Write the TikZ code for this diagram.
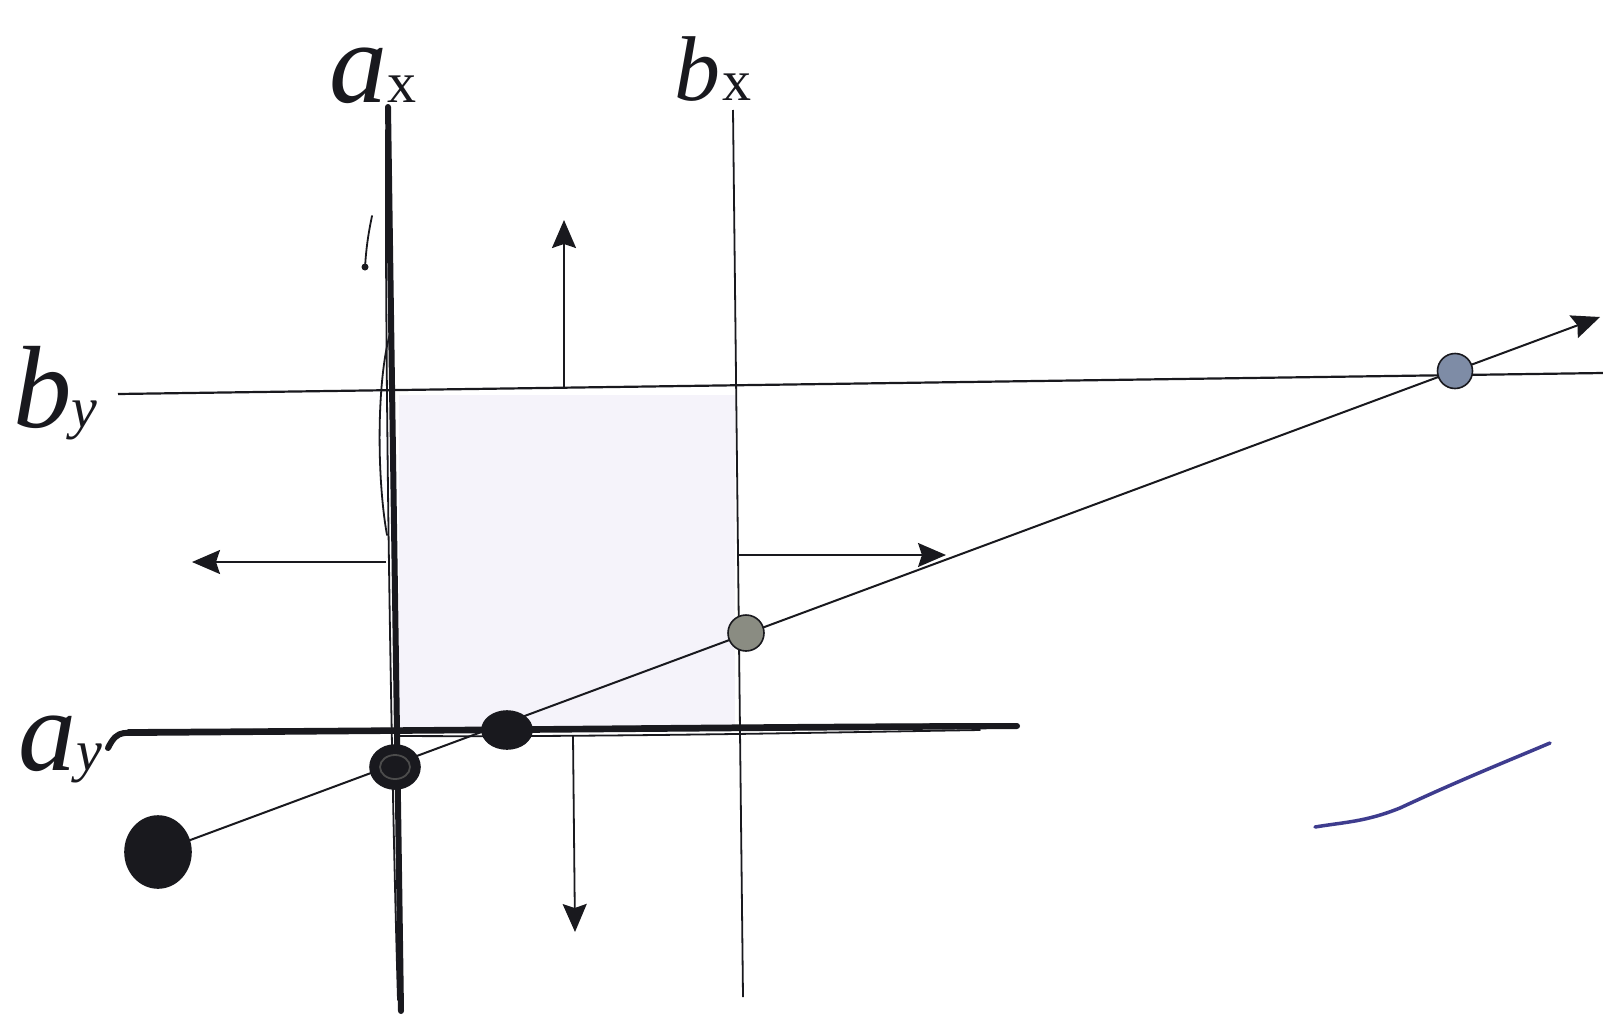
\documentclass[tikz,border=0pt]{standalone}
\usepackage{fontspec}
\setmainfont{Liberation Serif}
\usetikzlibrary{arrows.meta,shapes.geometric}
\definecolor{shadefill}{RGB}{245,243,250}
\definecolor{ink}{RGB}{25,25,30}
\definecolor{dotgray}{RGB}{138,140,130}
\definecolor{dotblue}{RGB}{126,140,166}
\definecolor{penblue}{RGB}{62,60,142}
\begin{document}
\begin{tikzpicture}[x=1pt,y=-1pt,
  thinline/.style={line width=1.8pt, draw=ink},
  thickline/.style={line width=6pt, draw=ink, line cap=round},
  sketch/.style={line width=1.8pt, draw=ink, line cap=round},
  arr/.style={line width=1.8pt, draw=ink, -{Stealth[length=28pt,width=24pt,inset=4pt]}},
  dot/.style={ellipse, inner sep=0pt, draw=ink, line width=1.6pt},
  lbl/.style={anchor=base west, inner sep=0pt, text=ink}]
\useasboundingbox (0,0) rectangle (1603,1017);
\fill[white] (0,0) rectangle (1603,1017);

% shaded rectangle
\fill[shadefill] (399,395) rectangle (735,731);

% coordinates
\coordinate (axT) at (388,107);
\coordinate (axB) at (401,1011);
\coordinate (bxT) at (733,110);
\coordinate (bxB) at (743,997);
\coordinate (byL) at (118,394);
\coordinate (byR) at (1603,373);
\coordinate (ayL) at (124,733);
\coordinate (ayR) at (1017,726);
\coordinate (tip) at (1600,317);

% thin lines
\draw[thinline] (bxT) -- (bxB);
\draw[thinline, line width=2.2pt] (byL) -- (byR);

% thick sketchy a_y line
\draw[thickline] (108,748) .. controls (113,738) and (117,734) .. (ayL) -- (ayR);
\draw[sketch] (128,730) .. controls (500,728) and (800,724) .. (1000,724);
\draw[sketch] (400,736) .. controls (600,737) and (800,733) .. (980,730);

% thick sketchy a_x line
\draw[thickline] (axT) -- (axB);
\draw[sketch] (386,130) .. controls (385,400) and (392,800) .. (398,1000);
\draw[sketch] (391,330) .. controls (376,380) and (377,480) .. (387,535);
\draw[sketch] (372,216) .. controls (368,235) and (366,250) .. (365,268);
\fill[ink] (365,267) circle (3.5);

% arrows
\coordinate (upS) at (564,388);
\coordinate (upE) at (564,220);
\coordinate (lfS) at (386,562);
\coordinate (lfE) at (192,562);
\coordinate (rtS) at (738,555);
\coordinate (rtE) at (946,555);
\coordinate (dnS) at (573,736);
\coordinate (dnE) at (575,932);
\draw[arr] (upS) -- (upE);
\draw[arr] (lfS) -- (lfE);
\draw[arr] (rtS) -- (rtE);
\draw[arr] (dnS) -- (dnE);

% big dot and diagonal line
\node[dot, fill=ink, minimum width=66pt, minimum height=72pt] (d1) at (158,852) {};
\draw[arr, line width=2pt, shorten <=-2pt] (d1.center) -- (tip);

% dots on the line
\node[dot, fill=ink, minimum width=50pt, minimum height=44pt] (d2) at (395,767) {};
\draw[sketch, draw=black!70] (395,767) ellipse [x radius=15, y radius=12];
\node[dot, fill=ink, minimum width=50pt, minimum height=38pt] (d3) at (507,730) {};
\node[dot, fill=dotgray, minimum width=36pt, minimum height=36pt] (d4) at (746,633) {};
\node[dot, fill=dotblue, minimum width=35pt, minimum height=35pt] (d5) at (1455,371) {};

% blue pen stroke
\draw[penblue, line width=3.5pt, line cap=round] (1315,827) .. controls (1345,822) and (1365,822) .. (1400,808) .. controls (1460,780) and (1510,760) .. (1550,743);

% labels
\node[lbl] (lax) at (329,102) {\fontsize{116}{116}\selectfont\itshape a\fontsize{58}{58}\selectfont\upshape x};
\node[lbl] (lbx) at (674,100) {\fontsize{92}{92}\selectfont\itshape b\kern2pt\fontsize{58}{58}\selectfont\upshape x};
\node[lbl] (lby) at (13,427) {\fontsize{117}{117}\selectfont\itshape b\fontsize{58}{58}\selectfont y};
\node[lbl] (lay) at (18,770) {\fontsize{116}{116}\selectfont\itshape a\fontsize{58}{58}\selectfont y};
\end{tikzpicture}
\end{document}
